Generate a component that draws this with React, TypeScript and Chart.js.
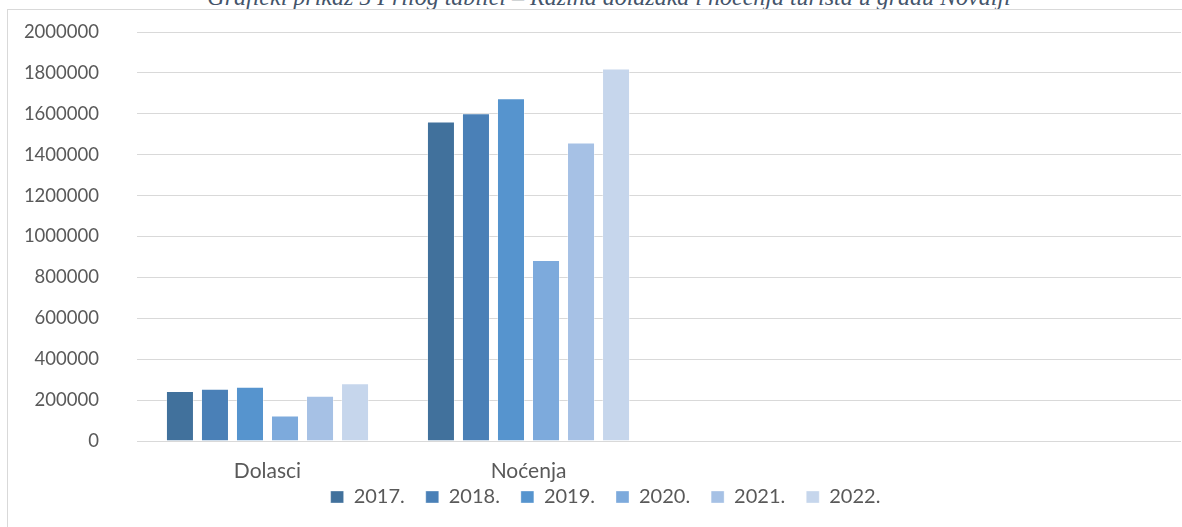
import React, { useEffect, useRef } from "react";
import { Chart, registerables } from "chart.js";

Chart.register(...registerables);

const title = "Grafički prikaz 5 Prilog tablici – Razina dolazaka i noćenja turista u gradu Novalji";
const categories = ["Dolasci", "Noćenja", "", ""];
const years = ["2017.", "2018.", "2019.", "2020.", "2021.", "2022."];
const dolasci = [244000, 255000, 265000, 125000, 221000, 283000];
const nocenja = [1562000, 1603000, 1676000, 885000, 1460000, 1822000];
const colors = ["#41719C", "#4A80B7", "#5694CE", "#7DAADC", "#A6C1E5", "#C6D6EC"];
const yMax = 2000000;
const yStep = 200000;

const FONT = "Lato";

// nudges the legend box to sit like the reference (closer to the category labels)
const legendNudge = {
  id: "legendNudge",
  afterLayout(chart: any) {
    const lg = chart.legend;
    if (!lg) return;
    lg.left += 11;
    lg.right += 11;
    lg.top -= 18;
    lg.bottom -= 18;
  },
};

export default function App() {
  const ref = useRef<HTMLCanvasElement | null>(null);
  useEffect(() => {
    if (!ref.current) return;
    const chart = new Chart(ref.current, {
      type: "bar",
      data: {
        labels: categories,
        datasets: years.map((y, i) => ({
          label: y,
          data: [dolasci[i], nocenja[i], null, null],
          backgroundColor: colors[i],
          borderColor: "rgba(255,255,255,0.35)",
          borderWidth: 1,
          categoryPercentage: 0.805,
          barPercentage: 0.8,
        })),
      },
      plugins: [legendNudge],
      options: {
        animation: false,
        responsive: false,
        maintainAspectRatio: false,
        layout: { padding: { top: 22, right: 23, bottom: 0, left: 0 } },
        plugins: {
          title: { display: false },
          tooltip: { enabled: false },
          legend: {
            position: "bottom",
            labels: {
              boxWidth: 13,
              boxHeight: 12,
              padding: 21,
              color: "#595959",
              font: { family: FONT, size: 20 },
            },
          },
        },
        scales: {
          x: {
            grid: { display: false, drawTicks: false },
            border: { display: false },
            ticks: { color: "#595959", font: { family: FONT, size: 21 }, padding: 18 },
            afterFit: (s: any) => {
              s.height = 43;
            },
          },
          y: {
            min: 0,
            max: yMax,
            border: { display: false },
            grid: { color: "#D9D9D9", lineWidth: 1, drawTicks: true, tickLength: 38, tickColor: "rgba(0,0,0,0)" },
            ticks: {
              stepSize: yStep,
              color: "#595959",
              font: { family: FONT, size: 18.5 },
              padding: 0,
              callback: (v: any) => String(v),
            },
            afterFit: (s: any) => {
              s.width = 129;
            },
          },
        },
      },
    });
    return () => chart.destroy();
  }, []);

  return (
    <div style={{ position: "fixed", left: 0, top: 0, width: 1182, height: 527, overflow: "hidden", background: "#fff" }}>
      <div
        style={{
          position: "absolute",
          left: 0,
          width: 1218,
          top: -17,
          textAlign: "center",
          fontFamily: "'Liberation Serif', serif",
          fontStyle: "italic",
          fontSize: 24,
          lineHeight: "28px",
          color: "#44546A",
          whiteSpace: "nowrap",
        }}
      >
        {title}
      </div>
      <div
        style={{
          position: "absolute",
          left: 7,
          top: 9,
          width: 1300,
          height: 700,
          border: "1px solid #D9D9D9",
          boxSizing: "border-box",
        }}
      />
      <canvas
        ref={ref}
        width={1196}
        height={525}
        style={{ position: "absolute", left: 8, top: 10, width: 1196, height: 525 }}
      />
    </div>
  );
}
